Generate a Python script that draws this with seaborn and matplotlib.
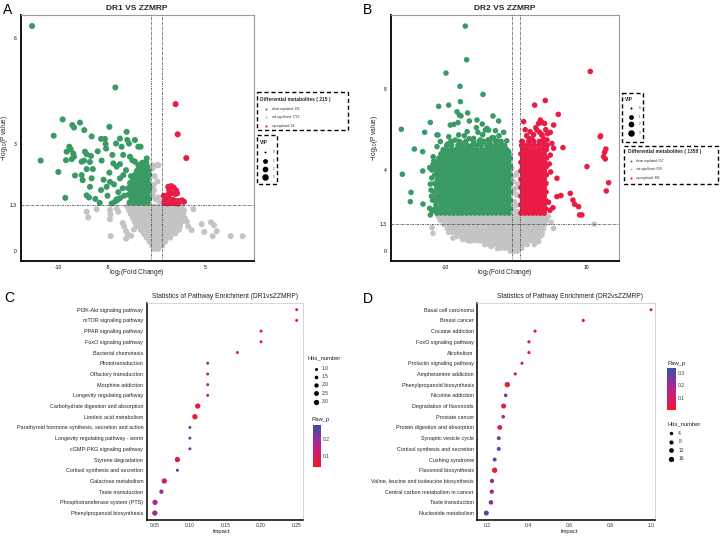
import matplotlib
matplotlib.use("Agg")
import matplotlib.pyplot as plt
import pandas as pd
import seaborn as sns
from matplotlib.colors import LinearSegmentedColormap, Normalize
from matplotlib.cm import ScalarMappable
from matplotlib.patches import Rectangle

# ---------------------------------------------------------------- data
# Panel A: DR1 vs ZZMRP  (log2 fold change, -log10 p)
A_DOWN = [(-12.7, 6.33), (-4.2, 4.6), (-9.58, 3.70), (-10.49, 3.24), (-8.59, 3.54), (-8.42, 3.47),
          (-7.81, 3.61), (-7.37, 3.40), (-6.62, 3.22), (-4.81, 3.49), (-5.66, 3.15), (-5.26, 3.15),
          (-5.19, 3.01), (-5.15, 2.88), (-4.13, 3.02), (-3.73, 3.16), (-3.05, 3.35), (-2.98, 3.12),
          (-2.81, 3.02), (-2.2, 3.12), (-1.86, 2.93), (-1.62, 2.93), (-3.56, 2.93), (-8.9, 2.93),
          (-8.76, 2.86), (-9.17, 2.79), (-8.49, 2.74), (-7.3, 2.79), (-7.13, 2.72), (-6.69, 2.67),
          (-9.24, 2.55), (-8.66, 2.58), (-8.42, 2.65), (-7.64, 2.51), (-7.4, 2.54), (-5.6, 2.54),
          (-11.82, 2.54), (-10.02, 2.22), (-7.13, 2.30), (-8.32, 2.12), (-7.64, 2.13), (-7.54, 1.99),
          (-6.62, 2.04), (-6.79, 1.80), (-7.13, 1.56), (-6.89, 1.50), (-6.24, 1.46), (-9.31, 1.49),
          (-5.66, 1.71), (-4.81, 2.20), (-4.41, 2.46), (-4.07, 2.37), (-3.73, 2.44), (-4.75, 1.94),
          (-4.34, 1.87), (-5.09, 1.80), (-3.73, 2.04), (-3.39, 2.13), (-3.11, 2.27), (-3.45, 1.76),
          (-2.88, 1.76), (-2.37, 1.80), (-4.07, 1.45), (-3.73, 1.48), (-2.71, 2.65), (-2.47, 2.55),
          (-2.2, 2.51), (-1.86, 2.41), (-1.52, 2.46), (-1.0, 2.6), (-4.58, 1.33), (-4.24, 1.38),
          (-4.0, 1.43), (-5.0, 1.55), (-6.5, 2.3), (-3.3, 1.55), (-2.6, 2.1), (-3.9, 1.65),
          (-5.4, 2.0), (-4.5, 2.7), (-3.4, 2.7), (-6.0, 2.8), (-5.8, 1.35), (-6.8, 2.5)]
A_DOWN_ROWS = [(1.36, [-2.75, -2.3, -1.95, -1.6, -1.25, -0.9]),
               (1.47, [-2.55, -2.1, -1.75, -1.4, -1.05, -0.75]),
               (1.58, [-2.85, -2.4, -2.0, -1.65, -1.3, -0.95]),
               (1.69, [-2.6, -2.2, -1.8, -1.45, -1.1, -0.8]),
               (1.80, [-2.45, -2.0, -1.65, -1.3, -0.95, -0.72]),
               (1.91, [-2.7, -2.25, -1.85, -1.5, -1.15, -0.85]),
               (2.02, [-2.4, -2.0, -1.6, -1.25, -0.9]),
               (2.14, [-2.2, -1.8, -1.45, -1.05, -0.75]),
               (2.25, [-2.0, -1.6, -1.2, -0.85]),
               (2.36, [-1.75, -1.3, -0.95]),
               (2.48, [-1.4, -1.05])]
A_UP = [(1.95, 4.13), (2.16, 3.28), (3.04, 2.61), (1.2, 1.80), (1.5, 1.82), (1.75, 1.78), (2.0, 1.70),
        (2.1, 1.62), (1.9, 1.60), (1.5, 1.62), (1.2, 1.58), (1.0, 1.52), (0.9, 1.45), (1.1, 1.42),
        (1.4, 1.45), (1.7, 1.43), (2.0, 1.40), (2.3, 1.40), (2.6, 1.42), (2.8, 1.38), (0.8, 1.35),
        (1.1, 1.33), (1.5, 1.34), (1.9, 1.34), (2.2, 1.33), (0.75, 1.55), (1.3, 1.70)]
A_NS = [(-7.13, 1.10), (-6.96, 0.94), (-6.11, 1.17), (-4.75, 1.15), (-4.75, 0.89), (-4.7, 1.02),
        (-4.07, 1.19), (-3.9, 1.1), (-4.68, 0.41), (-3.45, 0.78), (-3.3, 0.68), (-3.1, 0.55),
        (-2.9, 0.45), (-3.1, 0.34), (-2.6, 0.42), (-2.3, 0.6), (-2.1, 0.75), (3.76, 1.17),
        (4.61, 0.75), (5.56, 0.80), (5.87, 0.72), (6.14, 0.55), (5.73, 0.41), (7.57, 0.41),
        (8.79, 0.41), (4.88, 0.53), (3.08, 0.82), (3.25, 0.68), (3.59, 0.58), (2.4, 1.19),
        (2.74, 1.05), (2.91, 0.91), (-0.39, 2.32), (0.08, 2.41), (-0.43, 2.41), (0.18, 2.41),
        (-0.3, 1.85), (-0.25, 1.7), (-0.35, 1.55), (0.2, 1.5), (-0.1, 1.45), (0.3, 1.4),
        (-0.45, 1.6), (0.1, 1.95), (-0.2, 2.1)]
A_NS_ROWS = [(1.25, [-3.0, -2.6, -2.2, -1.8, -1.4, -1.0, -0.6, -0.2, 0.2, 0.6, 1.0, 1.4, 1.8, 2.2, 2.6]),
             (1.14, [-2.8, -2.4, -2.0, -1.6, -1.2, -0.8, -0.4, 0.0, 0.4, 0.8, 1.2, 1.6, 2.0, 2.4, 2.8]),
             (1.03, [-2.6, -2.2, -1.8, -1.4, -1.0, -0.6, -0.2, 0.2, 0.6, 1.0, 1.4, 1.8, 2.2, 2.6]),
             (0.92, [-2.4, -2.0, -1.6, -1.2, -0.8, -0.4, 0.0, 0.4, 0.8, 1.2, 1.6, 2.0, 2.4]),
             (0.81, [-2.2, -1.8, -1.4, -1.0, -0.6, -0.2, 0.2, 0.6, 1.0, 1.4, 1.8, 2.2, 2.5]),
             (0.70, [-1.9, -1.5, -1.1, -0.7, -0.3, 0.1, 0.5, 0.9, 1.3, 1.7, 2.1, 2.4]),
             (0.59, [-1.6, -1.2, -0.8, -0.4, 0.0, 0.4, 0.8, 1.2, 1.6, 2.0, 2.3]),
             (0.48, [-1.3, -0.9, -0.5, -0.1, 0.3, 0.7, 1.1, 1.5, 1.9]),
             (0.37, [-1.0, -0.6, -0.2, 0.2, 0.6, 1.0, 1.4]),
             (0.26, [-0.7, -0.3, 0.1, 0.5, 0.9]),
             (0.15, [-0.45, -0.05, 0.35, 0.6]),
             (0.05, [-0.25, 0.15])]

# Panel B: DR2 vs ZZMRP
B_DOWN = [(-7.16, 11.14), (-6.97, 9.47), (-9.89, 8.81), (-7.91, 8.15), (-4.66, 7.75), (-10.92, 7.16),
          (-9.51, 7.22), (-7.86, 7.39), (-8.33, 6.89), (-8.0, 6.73), (-7.77, 6.68), (-6.83, 6.83),
          (-12.1, 6.36), (-16.2, 6.02), (-12.9, 5.87), (-11.02, 5.74), (-9.28, 6.23), (-8.8, 6.26),
          (-8.19, 6.35), (-6.59, 6.43), (-5.51, 6.48), (-4.76, 6.28), (-3.25, 6.68), (-2.45, 6.43),
          (-4.33, 5.98), (-3.86, 5.98), (-5.37, 5.87), (-1.74, 5.87), (-8.1, 5.74), (-5.98, 5.57),
          (-3.15, 5.6), (-4.1, 6.06), (-14.36, 5.04), (-13.18, 4.91), (-16.05, 3.79), (-13.18, 3.95),
          (-12.19, 4.12), (-11.72, 4.28), (-14.83, 2.89), (-14.93, 2.43), (-13.14, 2.31), (-12.1, 1.77),
          (-11.16, 5.74), (-10.69, 5.41), (-9.65, 5.29), (-9.04, 5.41), (-8.57, 5.49), (-7.86, 5.37),
          (-6.45, 5.16), (-5.04, 5.49), (-3.39, 5.60), (-2.68, 5.44), (-1.98, 5.24), (-1.51, 5.08),
          (-1.04, 4.91), (-11.16, 5.16), (-11.7, 4.66), (-11.9, 3.6), (-12.0, 3.0), (-11.8, 2.5),
          (-12.2, 2.1), (-11.9, 4.0), (-12.1, 3.3), (-11.95, 2.7), (-11.85, 1.95), (-11.6, 4.45),
          (-9.5, 5.65), (-7.3, 5.7), (-6.6, 5.55), (-4.7, 5.75), (-3.9, 5.5), (-2.4, 5.7),
          (-1.3, 5.45), (-6.9, 5.9), (-5.6, 6.1), (-2.9, 5.95)]
B_DOWN_ROWS = [
    (1.86, [-11.2, -10.6, -10.0, -9.4, -8.8, -8.2, -7.6, -7.0, -6.4, -5.8, -5.2, -4.6, -4.0, -3.4, -2.8, -2.2, -1.6, -1.0]),
    (2.07, [-11.5, -10.9, -10.3, -9.7, -9.1, -8.5, -7.9, -7.3, -6.7, -6.1, -5.5, -4.9, -4.3, -3.7, -3.1, -2.5, -1.9, -1.3, -0.8]),
    (2.28, [-11.3, -10.6, -10.0, -9.4, -8.8, -8.2, -7.6, -7.0, -6.4, -5.8, -5.2, -4.6, -4.0, -3.4, -2.8, -2.2, -1.6, -1.0]),
    (2.49, [-11.5, -10.9, -10.3, -9.7, -9.1, -8.5, -7.9, -7.3, -6.7, -6.1, -5.5, -4.9, -4.3, -3.7, -3.1, -2.5, -1.9, -1.3, -0.8]),
    (2.70, [-11.2, -10.6, -10.0, -9.4, -8.8, -8.2, -7.6, -7.0, -6.4, -5.8, -5.2, -4.6, -4.0, -3.4, -2.8, -2.2, -1.6, -1.0]),
    (2.91, [-11.6, -10.9, -10.3, -9.7, -9.1, -8.5, -7.9, -7.3, -6.7, -6.1, -5.5, -4.9, -4.3, -3.7, -3.1, -2.5, -1.9, -1.3, -0.8]),
    (3.12, [-11.2, -10.6, -10.0, -9.4, -8.8, -8.2, -7.6, -7.0, -6.4, -5.8, -5.2, -4.6, -4.0, -3.4, -2.8, -2.2, -1.6, -1.0]),
    (3.33, [-11.5, -10.9, -10.3, -9.7, -9.1, -8.5, -7.9, -7.3, -6.7, -6.1, -5.5, -4.9, -4.3, -3.7, -3.1, -2.5, -1.9, -1.3, -0.8]),
    (3.54, [-11.1, -10.6, -10.0, -9.4, -8.8, -8.2, -7.6, -7.0, -6.4, -5.8, -5.2, -4.6, -4.0, -3.4, -2.8, -2.2, -1.6, -1.0]),
    (3.75, [-11.5, -10.9, -10.3, -9.7, -9.1, -8.5, -7.9, -7.3, -6.7, -6.1, -5.5, -4.9, -4.3, -3.7, -3.1, -2.5, -1.9, -1.3, -0.8]),
    (3.96, [-11.2, -10.6, -10.0, -9.4, -8.8, -8.2, -7.6, -7.0, -6.4, -5.8, -5.2, -4.6, -4.0, -3.4, -2.8, -2.2, -1.6, -1.0]),
    (4.17, [-11.4, -10.9, -10.3, -9.7, -9.1, -8.5, -7.9, -7.3, -6.7, -6.1, -5.5, -4.9, -4.3, -3.7, -3.1, -2.5, -1.9, -1.3, -0.8]),
    (4.38, [-11.0, -10.6, -10.0, -9.4, -8.8, -8.2, -7.6, -7.0, -6.4, -5.8, -5.2, -4.6, -4.0, -3.4, -2.8, -2.2, -1.6, -1.0]),
    (4.59, [-10.9, -10.3, -9.7, -9.1, -8.5, -7.9, -7.3, -6.7, -6.1, -5.5, -4.9, -4.3, -3.7, -3.1, -2.5, -1.9, -1.3, -0.8]),
    (4.80, [-10.6, -10.0, -9.4, -8.8, -8.2, -7.6, -7.0, -6.4, -5.8, -5.2, -4.6, -4.0, -3.4, -2.8, -2.2, -1.6, -1.0]),
    (5.01, [-10.3, -9.7, -9.1, -8.5, -7.9, -7.3, -6.7, -6.1, -5.5, -4.9, -4.3, -3.7, -3.1, -2.5, -1.9, -1.3]),
    (5.22, [-9.8, -9.1, -8.2, -7.6, -6.9, -6.2, -5.6, -4.9, -4.1, -3.5, -2.8, -2.2, -1.6]),
    (5.42, [-9.2, -8.0, -7.1, -6.0, -5.2, -4.5, -3.7, -2.9, -2.1])]
B_UP = [(10.5, 8.89), (2.64, 7.22), (4.14, 7.45), (5.98, 6.76), (1.08, 6.40), (3.44, 6.48), (3.67, 6.36),
        (4.05, 6.31), (3.2, 6.31), (5.32, 6.23), (2.97, 5.98), (3.34, 5.87), (3.67, 5.74), (4.85, 5.87),
        (4.47, 5.8), (11.96, 5.69), (2.26, 5.54), (11.91, 5.65), (12.7, 5.04), (12.52, 4.88),
        (12.38, 4.66), (12.62, 4.55), (10.03, 4.17), (13.09, 3.37), (12.76, 2.96), (6.64, 5.11),
        (7.67, 2.84), (8.05, 2.51), (8.29, 2.30), (8.85, 2.18), (8.99, 1.77), (9.32, 1.77),
        (6.35, 2.73), (5.79, 2.68), (5.23, 2.13), (5.79, 3.59), (0.85, 5.41), (3.67, 5.74),
        (4.38, 5.49), (5.08, 5.32), (5.32, 5.08), (4.85, 4.74), (4.7, 4.3), (4.9, 3.9), (4.6, 2.4),
        (4.8, 2.0), (1.5, 5.7), (2.0, 5.9), (2.8, 6.1), (1.3, 6.0), (4.2, 6.0), (2.5, 5.75),
        (3.9, 5.55), (1.9, 5.55)]
B_UP_ROWS = [(1.86, [0.7, 1.25, 1.8, 2.35, 2.9, 3.45, 4.0]),
             (2.07, [0.95, 1.5, 2.05, 2.6, 3.15, 3.7, 4.2]),
             (2.28, [0.7, 1.25, 1.8, 2.35, 2.9, 3.45, 4.0]),
             (2.49, [0.95, 1.5, 2.05, 2.6, 3.15, 3.7, 4.2]),
             (2.70, [0.7, 1.25, 1.8, 2.35, 2.9, 3.45, 4.0]),
             (2.91, [0.95, 1.5, 2.05, 2.6, 3.15, 3.7, 4.25]),
             (3.12, [0.7, 1.25, 1.8, 2.35, 2.9, 3.45, 4.0]),
             (3.33, [0.95, 1.5, 2.05, 2.6, 3.15, 3.7, 4.25]),
             (3.54, [0.7, 1.25, 1.8, 2.35, 2.9, 3.45, 4.0]),
             (3.75, [0.95, 1.5, 2.05, 2.6, 3.15, 3.7, 4.3]),
             (3.96, [0.7, 1.25, 1.8, 2.35, 2.9, 3.45, 4.0]),
             (4.17, [0.95, 1.5, 2.05, 2.6, 3.15, 3.7, 4.3]),
             (4.38, [0.7, 1.25, 1.8, 2.35, 2.9, 3.45, 4.0]),
             (4.59, [0.95, 1.5, 2.05, 2.6, 3.15, 3.7, 4.35]),
             (4.80, [0.7, 1.25, 1.8, 2.35, 2.9, 3.45, 4.0]),
             (5.01, [0.95, 1.5, 2.05, 2.6, 3.15, 3.7, 4.3]),
             (5.22, [0.8, 1.4, 2.0, 2.6, 3.2, 3.8, 4.4]),
             (5.42, [0.9, 1.8, 2.5, 3.3, 4.0])]
B_NS = [(-11.87, 1.14), (-11.72, 0.86), (11.06, 1.31), (4.99, 1.41), (-5.04, 0.48), (-6.45, 0.48),
        (3.67, 0.78), (3.2, 0.45), (-7.5, 0.55), (5.3, 1.1), (-8.9, 0.62), (2.6, 0.3), (-3.5, 0.2),
        (-2.6, 0.1), (-0.57, 4.08), (-0.33, 3.42), (-0.1, 3.09), (0.14, 2.76), (-0.24, 2.43),
        (-0.42, 2.1), (0.05, 3.75), (-0.71, 1.77), (0.28, 1.93), (0.14, 3.85), (-0.3, 2.9),
        (0.1, 2.25), (-0.5, 3.7), (0.3, 3.3), (-0.1, 1.95)]
B_NS_ROWS = [
    (1.70, [-11.0, -10.4, -9.8, -9.2, -8.6, -8.0, -7.4, -6.8, -6.2, -5.6, -5.0, -4.4, -3.8, -3.2, -2.6, -2.0, -1.4, -0.8, -0.2, 0.4, 1.0, 1.6, 2.2, 2.8, 3.4, 4.0, 4.6]),
    (1.50, [-10.7, -10.1, -9.5, -8.9, -8.3, -7.7, -7.1, -6.5, -5.9, -5.3, -4.7, -4.1, -3.5, -2.9, -2.3, -1.7, -1.1, -0.5, 0.1, 0.7, 1.3, 1.9, 2.5, 3.1, 3.7, 4.3]),
    (1.30, [-10.2, -9.6, -9.0, -8.4, -7.8, -7.2, -6.6, -6.0, -5.4, -4.8, -4.2, -3.6, -3.0, -2.4, -1.8, -1.2, -0.6, 0.0, 0.6, 1.2, 1.8, 2.4, 3.0, 3.6, 4.1]),
    (1.10, [-9.7, -9.1, -8.5, -7.9, -7.3, -6.7, -6.1, -5.5, -4.9, -4.3, -3.7, -3.1, -2.5, -1.9, -1.3, -0.7, -0.1, 0.5, 1.1, 1.7, 2.3, 2.9, 3.5, 3.9]),
    (0.90, [-9.5, -8.9, -8.3, -7.7, -7.1, -6.5, -5.9, -5.3, -4.7, -4.1, -3.5, -2.9, -2.3, -1.7, -1.1, -0.5, 0.1, 0.7, 1.3, 1.9, 2.5, 3.1, 3.7]),
    (0.70, [-8.3, -7.7, -7.1, -6.5, -5.9, -5.3, -4.7, -4.1, -3.5, -2.9, -2.3, -1.7, -1.1, -0.5, 0.1, 0.7, 1.3, 1.9, 2.5, 3.1, 3.4]),
    (0.50, [-6.8, -6.2, -5.6, -5.0, -4.4, -3.8, -3.2, -2.6, -2.0, -1.4, -0.8, -0.2, 0.4, 1.0, 1.6, 2.2, 2.8]),
    (0.30, [-4.4, -3.8, -3.2, -2.6, -2.0, -1.4, -0.8, -0.2, 0.4, 1.0, 1.6]),
    (0.12, [-2.2, -1.6, -1.0, -0.4, 0.2, 0.8]),
    (-0.03, [-0.8, -0.3, 0.2])]

A_COUNTS = {"total": 215, "down": 191, "ns": 1750, "up": 24}
B_COUNTS = {"total": 1358, "down": 557, "ns": 639, "up": 801}
VIP_LEVELS = [0, 1, 2, 3]

# Panel C: pathway enrichment DR1 vs ZZMRP
C_PATHWAYS = ["PI3K-Akt signaling pathway", "mTOR signaling pathway", "PPAR signaling pathway",
              "FoxO signaling pathway", "Bacterial chemotaxis", "Phototransduction",
              "Olfactory transduction", "Morphine addiction", "Longevity regulating pathway",
              "Carbohydrate digestion and absorption", "Linoleic acid metabolism",
              "Parathyroid hormone synthesis, secretion and action",
              "Longevity regulating pathway - worm", "cGMP-PKG signaling pathway",
              "Styrene degradation", "Cortisol synthesis and secretion", "Galactose metabolism",
              "Taste transduction", "Phosphotransferase system (PTS)", "Phenylpropanoid biosynthesis"]
C_IMPACT = [0.25, 0.25, 0.2, 0.2, 0.1667, 0.125, 0.125, 0.125, 0.125, 0.111, 0.107, 0.1, 0.1, 0.1,
            0.0824, 0.0824, 0.064, 0.06, 0.051, 0.0507]
C_RAWP = [0.075, 0.075, 0.078, 0.078, 0.14, 0.18, 0.18, 0.18, 0.18, 0.045, 0.05, 0.23, 0.23, 0.23,
          0.09, 0.275, 0.11, 0.2, 0.17, 0.19]
C_HITS = [1, 1, 1, 1, 1, 1, 1, 1, 1, 3, 3, 1, 1, 1, 3, 1, 3, 2, 3, 3]

# Panel D: pathway enrichment DR2 vs ZZMRP
D_PATHWAYS = ["Basal cell carcinoma", "Breast cancer", "Cocaine addiction", "FoxO signaling pathway",
              "Alcoholism", "Prolactin signaling pathway", "Amphetamine addiction",
              "Phenylpropanoid biosynthesis", "Nicotine addiction", "Degradation of flavonoids",
              "Prostate cancer", "Protein digestion and absorption", "Synaptic vesicle cycle",
              "Cortisol synthesis and secretion", "Cushing syndrome", "Flavonoid biosynthesis",
              "Valine, leucine and isoleucine biosynthesis", "Central carbon metabolism in cancer",
              "Taste transduction", "Nucleotide metabolism"]
D_IMPACT = [1.0, 0.668, 0.432, 0.402, 0.402, 0.368, 0.335, 0.296, 0.288, 0.278, 0.276, 0.259, 0.254,
            0.254, 0.234, 0.234, 0.221, 0.22, 0.216, 0.193]
D_RAWP = [0.15, 0.055, 0.065, 0.15, 0.06, 0.065, 0.13, 0.02, 0.29, 0.025, 0.22, 0.03, 0.27, 0.27,
          0.32, 0.015, 0.24, 0.21, 0.23, 0.28]
D_HITS = [2, 3, 3, 3, 3, 3, 3, 17, 5, 14, 5, 13, 7, 7, 7, 17, 9, 9, 11, 14]

# ---------------------------------------------------------------- style
sns.set_theme(style="white")
plt.rcParams["font.family"] = ["Liberation Sans", "DejaVu Sans"]
plt.rcParams["mathtext.fontset"] = "custom"
plt.rcParams["mathtext.rm"] = "Liberation Sans"
plt.rcParams["mathtext.it"] = "Liberation Sans:italic"
plt.rcParams["mathtext.bf"] = "Liberation Sans:bold"

GREEN, GRAY, RED = "#3A9A63", "#C4C4C4", "#EA1B44"
CMAP = LinearSegmentedColormap.from_list("rawp", ["#F0182E", "#BF1F8E", "#3B4FA5"])
W, H = 720, 536
fig = plt.figure(figsize=(W / 100, H / 100), dpi=100)


def rect(l, t, r, b):
    return [l / W, 1 - b / H, (r - l) / W, (b - t) / H]


def expand(points, rows):
    pts = list(points)
    for y, xs in rows:
        pts += [(x, y) for x in xs]
    return pts


def volcano(r, down, ns, up, xlim, ylim, xticks, xlabels, yticks, ylabels, s):
    ax = fig.add_axes(r)
    df = pd.concat([pd.DataFrame(ns, columns=["lfc", "nlp"]).assign(grp="ns"),
                    pd.DataFrame(down, columns=["lfc", "nlp"]).assign(grp="down"),
                    pd.DataFrame(up, columns=["lfc", "nlp"]).assign(grp="up")],
                   ignore_index=True)
    sns.scatterplot(data=df, x="lfc", y="nlp", hue="grp",
                    palette={"ns": GRAY, "down": GREEN, "up": RED},
                    s=s, linewidth=0, legend=False, ax=ax, zorder=2)
    dash = (0, (3, 1.3, 1, 1.3))
    for xv in (-0.585, 0.585):
        ax.axvline(xv, color="#444444", lw=0.55, ls=dash, zorder=3)
    ax.axhline(1.3, color="#444444", lw=0.55, ls=dash, zorder=3)
    ax.set_xlim(xlim)
    ax.set_ylim(ylim)
    ax.set_xticks(xticks)
    ax.set_xticklabels(xlabels)
    ax.set_yticks(yticks)
    ax.set_yticklabels(ylabels)
    ax.set_xlabel("")
    ax.set_ylabel("")
    ax.tick_params(labelsize=3.6, length=1.8, width=0.5, pad=1.2, colors="black")
    for sp in ("left", "bottom"):
        ax.spines[sp].set_color("black")
        ax.spines[sp].set_linewidth(1.3)
    for sp in ("top", "right"):
        ax.spines[sp].set_color("#9a9a9a")
        ax.spines[sp].set_linewidth(0.8)
    return ax


def enrich(r, names, impact, rawp, hits, xlim, xticks, xlabels, hnorm, snorm, sizes):
    ax = fig.add_axes(r)
    df = pd.DataFrame({"Pathway": names, "Impact": impact, "Raw_p": rawp, "Hits_number": hits})
    sns.scatterplot(data=df, x="Impact", y="Pathway", hue="Raw_p", size="Hits_number",
                    palette=CMAP, hue_norm=hnorm, size_norm=snorm, sizes=sizes,
                    linewidth=0, legend=False, ax=ax, zorder=3)
    ax.set_ylim(len(names) - 0.4, -0.6)
    ax.set_xlim(xlim)
    ax.set_xticks(xticks)
    ax.set_xticklabels(xlabels)
    ax.set_xlabel("")
    ax.set_ylabel("")
    ax.tick_params(axis="y", labelsize=3.9, length=1.5, width=0.4, pad=1, colors="#222222")
    ax.tick_params(axis="x", labelsize=3.6, length=1.5, width=0.4, pad=1, colors="#333333")
    for sp in ("left", "bottom"):
        ax.spines[sp].set_color("black")
        ax.spines[sp].set_linewidth(1.1)
    for sp in ("top", "right"):
        ax.spines[sp].set_color("#d0d0d0")
        ax.spines[sp].set_linewidth(0.6)
    return ax


def colorbar(r, hnorm, ticks):
    cax = fig.add_axes(r)
    cb = fig.colorbar(ScalarMappable(Normalize(*hnorm), CMAP), cax=cax)
    cb.set_ticks(ticks)
    cb.set_ticklabels([f"{t:g}" for t in ticks])
    cb.outline.set_visible(False)
    cax.tick_params(labelsize=3.6, length=1.8, width=0.5, color="white", pad=1.2,
                    direction="in", labelcolor="#333333")


# ---------------------------------------------------------------- panels
volcano(rect(20.7, 15, 254, 260.7), expand(A_DOWN, A_DOWN_ROWS), expand(A_NS, A_NS_ROWS), A_UP,
        (-13.86, 9.95), (-0.28, 6.64), [-10, -5, 5], ["-10", "-5", "5"],
        [0, 1.3, 3, 6], ["0", "1.3", "3", "6"], 19)
volcano(rect(390.7, 15, 619.3, 260.7), expand(B_DOWN, B_DOWN_ROWS), expand(B_NS, B_NS_ROWS),
        expand(B_UP, B_UP_ROWS), (-17.7, 14.6), (-0.5, 11.69), [-10, 0, 10], ["-10", "", "10"],
        [0, 1.3, 4, 8], ["0", "1.3", "4", "8"], 16)

C_HNORM, C_SNORM, C_SIZES = (0.037, 0.282), (1, 3), (4.7, 14.6)
D_HNORM, D_SNORM, D_SIZES = (0.0016, 0.335), (2, 18), (4.7, 15.7)
enrich(rect(146.7, 303.3, 303.3, 519.5), C_PATHWAYS, C_IMPACT, C_RAWP, C_HITS,
       (0.0393, 0.2593), [0.05, 0.10, 0.15, 0.20, 0.25], ["0.05", "0.10", "0.15", "0.20", "0.25"],
       C_HNORM, C_SNORM, C_SIZES)
enrich(rect(477.3, 303.3, 655, 519.5), D_PATHWAYS, D_IMPACT, D_RAWP, D_HITS,
       (0.149, 1.0196), [0.2, 0.4, 0.6, 0.8, 1.0], ["0.2", "0.4", "0.6", "0.8", "1.0"],
       D_HNORM, D_SNORM, D_SIZES)
colorbar(rect(312.7, 425, 320.7, 466.7), C_HNORM, [0.1, 0.2])
colorbar(rect(667.3, 368.3, 675.7, 410), D_HNORM, [0.1, 0.2, 0.3])

# ---------------------------------------------------------------- overlay text & legends
ov = fig.add_axes([0, 0, 1, 1])
ov.set_xlim(0, W)
ov.set_ylim(H, 0)
ov.axis("off")

for letter, (x, y) in {"A": (8, 10), "B": (368, 10), "C": (9, 298), "D": (368, 299)}.items():
    ov.text(x, y, letter, fontsize=10, ha="center", va="center", color="black")

ov.text(137, 8.5, "DR1 VS ZZMRP", fontsize=6, fontweight="bold", ha="center", va="center")
ov.text(505, 8.5, "DR2 VS ZZMRP", fontsize=6, fontweight="bold", ha="center", va="center")
ov.text(137, 273, "log$_2$(Fold Change)", fontsize=4.8, ha="center", va="center")
ov.text(505, 273, "log$_2$(Fold Change)", fontsize=4.8, ha="center", va="center")
ov.text(5, 138, "\u2212log$_{10}$(P value)", fontsize=4.8, rotation=90, ha="center", va="center")
ov.text(375, 138, "\u2212log$_{10}$(P value)", fontsize=4.8, rotation=90, ha="center", va="center")

ov.text(225, 296, "Statistics of Pathway Enrichment (DR1vsZZMRP)", fontsize=4.8,
        ha="center", va="center", color="#222222")
ov.text(570, 296, "Statistics of Pathway Enrichment (DR2vsZZMRP)", fontsize=4.8,
        ha="center", va="center", color="#222222")
ov.text(221, 531, "Impact", fontsize=4.2, ha="center", va="center", color="#222222")
ov.text(569, 531, "Impact", fontsize=4.2, ha="center", va="center", color="#222222")


def diff_legend(box, counts, title_xy, mx, tx, ys):
    l, t, r, b = box
    ov.add_patch(Rectangle((l, t), r - l, b - t, fill=False, ec="black", lw=1.0, ls=(0, (3, 2))))
    ov.text(*title_xy, f"Differential metabolites ( {counts['total']} )", fontsize=3.5,
            fontweight="bold", ha="left", va="center")
    labels = [f"down regulated: {counts['down']}", f"not significant: {counts['ns']}",
              f"up regulated: {counts['up']}"]
    for y, c, lab in zip(ys, [GREEN, GRAY, RED], labels):
        ov.scatter([mx], [y], s=2.5, color=c, linewidths=0)
        ov.text(tx, y, lab, fontsize=2.2, ha="left", va="center")


def vip_legend(box, title_xy, mx, tx, ys):
    l, t, r, b = box
    ov.add_patch(Rectangle((l, t), r - l, b - t, fill=False, ec="black", lw=1.0, ls=(0, (3, 2))))
    ov.text(*title_xy, "VIP", fontsize=3.5, fontweight="bold", ha="left", va="center")
    for y, v, sz in zip(ys, VIP_LEVELS, [2.0, 12, 17, 22]):
        ov.scatter([mx], [y], s=sz, color="black", linewidths=0)
        ov.text(tx, y, str(v), fontsize=2.2, ha="left", va="center")


diff_legend((256.7, 91.7, 347.7, 130), A_COUNTS, (260, 99.5), 266, 272.5, [109, 117.3, 125.7])
vip_legend((256.7, 135, 277.3, 184.3), (260, 142.3), 265, 273, [151.7, 160.7, 169, 176.7])
vip_legend((621.7, 92.7, 643.3, 141.7), (625, 99.5), 631, 639, [108.3, 116.7, 124.3, 132.7])
diff_legend((624.3, 145.7, 717.7, 184.3), B_COUNTS, (627.5, 151), 631, 635.5, [161, 169.3, 177.7])


def size_legend(title_xy, values, snorm, sizes, mx, tx, ys):
    ov.text(*title_xy, "Hits_number", fontsize=4.2, ha="left", va="center", color="#222222")
    for v, y in zip(values, ys):
        s = sizes[0] + (v - snorm[0]) / (snorm[1] - snorm[0]) * (sizes[1] - sizes[0])
        ov.scatter([mx], [y], s=s, color="black", linewidths=0)
        ov.text(tx, y, f"{v:g}" if v != int(v) or len(values) < 5 else f"{v:.1f}", fontsize=3.6,
                ha="left", va="center", color="#333333")


size_legend((308, 358), [1.0, 1.5, 2.0, 2.5, 3.0], C_SNORM, C_SIZES, 315.7, 321.7,
            [368.5, 377, 385, 393.3, 401.7])
ov.text(311.5, 420, "Raw_p", fontsize=4.2, ha="left", va="center", color="#222222")
ov.text(667.3, 363.3, "Raw_p", fontsize=4.2, ha="left", va="center", color="#222222")
size_legend((667.3, 424), [4, 8, 12, 16], D_SNORM, D_SIZES, 670.7, 678.3,
            [433.3, 441.7, 450, 458.7])

fig.savefig("out.png", dpi=100)
